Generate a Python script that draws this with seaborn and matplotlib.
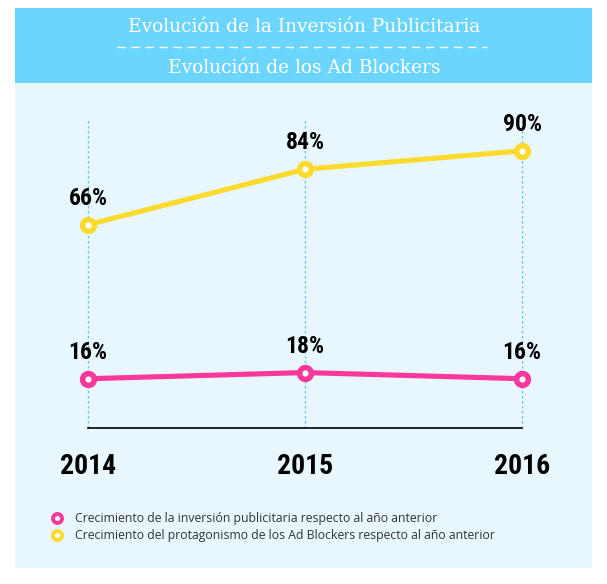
import pandas as pd
import seaborn as sns
import matplotlib.pyplot as plt
from matplotlib.patches import Rectangle
from matplotlib.lines import Line2D

years = ["2014", "2015", "2016"]
inversion = [16, 18, 16]
adblockers = [66, 84, 90]
series_names = [
    "Crecimiento de la inversión publicitaria respecto al año anterior",
    "Crecimiento del protagonismo de los Ad Blockers respecto al año anterior",
]
colors = ["#F8389A", "#FCDA2E"]
title_top = "Evolución de la Inversión Publicitaria"
title_bottom = "Evolución de los Ad Blockers"

W, H = 607, 584
sns.set_theme(style="white")
narrow = ["Roboto Condensed", "DejaVu Sans"]

df = pd.DataFrame({
    "pos": list(range(len(years))) * 2,
    "valor": inversion + adblockers,
    "serie": [series_names[0]] * len(years) + [series_names[1]] * len(years),
})

fig = plt.figure(figsize=(W / 100, H / 100), dpi=100)
fig.patch.set_facecolor("white")


def px(x, y):
    return x / W, 1 - y / H


# background panels
fig.patches.append(Rectangle(px(15, 568), 577 / W, 485 / H, transform=fig.transFigure,
                             facecolor="#E8F7FE", edgecolor="none", zorder=-10))
fig.patches.append(Rectangle(px(15, 83), 577 / W, 75 / H, transform=fig.transFigure,
                             facecolor="#6CD5FD", edgecolor="none", zorder=-10))

fig.text(*px(304, 27), title_top, color="white", fontsize=13.4, family="DejaVu Serif",
         ha="center", va="center")
fig.text(*px(304, 68), title_bottom, color="white", fontsize=13.4, family="DejaVu Serif",
         ha="center", va="center")
fig.lines.append(Line2D([117 / W, 487 / W], [1 - 47 / H] * 2, transform=fig.transFigure,
                        color="white", lw=1, dashes=(5.8, 4.3)))

ax = fig.add_axes([88 / W, 1 - 428 / H, 434 / W, 308 / H])
ax.set_facecolor("none")

for x in range(len(years)):
    ax.axvline(x, color="#59C9F0", lw=0.9, ls=(0, (2, 2)), zorder=1, clip_on=False)

sns.lineplot(data=df, x="pos", y="valor", hue="serie", palette=colors, ax=ax,
             lw=3.7, marker="o", markersize=8.5, markerfacecolor="white",
             markeredgewidth=4, legend=False, zorder=3, clip_on=False)
# marker edges follow the line colours
for line, c in zip([l for l in ax.get_lines() if l.get_marker() == "o"], colors):
    line.set_markeredgecolor(c)

for vals in (inversion, adblockers):
    for x, v in enumerate(vals):
        ax.annotate(f"{v}%", (x, v), xytext=(0, 19), textcoords="offset points",
                    ha="center", va="center", fontsize=17, fontweight="bold",
                    family=narrow, fontstretch="condensed", color="black")

ax.set_xlim(0, 2)
ax.set_ylim(0, 100)
ax.set_yticks([])
ax.set_xticks(range(len(years)))
ax.set_xticklabels(years, fontsize=20, fontweight="bold", family=narrow,
                   fontstretch="condensed", color="black")
ax.tick_params(axis="x", length=0, pad=18)
for s in ["top", "right", "left"]:
    ax.spines[s].set_visible(False)
ax.spines["bottom"].set_color("black")
ax.spines["bottom"].set_linewidth(1.2)
ax.set_xlabel("")
ax.set_ylabel("")

handles = [Line2D([], [], ls="none", marker="o", markersize=6.5, markerfacecolor="white",
                  markeredgecolor=c, markeredgewidth=2.8) for c in colors]
fig.legend(handles, series_names, loc="upper left", bbox_to_anchor=px(34, 501),
           frameon=False, handletextpad=0.4, labelspacing=0.35,
           prop={"family": "Open Sans", "size": 8.85}, labelcolor="#333333")

fig.savefig("out.png", dpi=100)
